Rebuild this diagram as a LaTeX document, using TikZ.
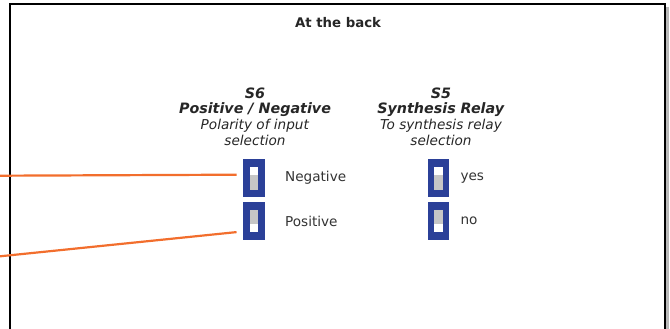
\documentclass[tikz,border=0pt]{standalone}
\usepackage{fontspec}
\setmainfont{DejaVu Sans}
\usetikzlibrary{positioning}
\definecolor{SwitchBlue}{RGB}{43,64,152}
\definecolor{SliderGray}{RGB}{198,198,198}
\definecolor{WireOrange}{RGB}{242,110,45}
\tikzset{
  FrameStyle/.style = {black, line width=1.3pt},
  TitleStyle/.style = {text=black!85, font=\fontsize{13.3}{15}\selectfont\bfseries},
  HeadStyle/.style = {align=center, inner sep=0pt, text=black!85,
                      font=\fontsize{13.6}{15.6}\selectfont},
  SwitchStyle/.style = {rectangle, fill=SwitchBlue, inner sep=0pt,
                        minimum width=21.5pt, minimum height=38pt},
  SlotStyle/.style = {rectangle, fill=white, inner sep=0pt,
                      minimum width=8.3pt, minimum height=22.7pt},
  LabelStyle/.style = {inner sep=0pt, text=black!80,
                       font=\fontsize{13.6}{15}\selectfont},
  WireStyle/.style = {WireOrange, line width=2.2pt} }
% dip switch: name, slider position (up or down)
\newcommand{\SetSlider}[2]{%
  \node[SlotStyle] (#1-slot) at (#1) {};
  \ifx#2u
    \fill[SliderGray] (#1-slot.south west) rectangle ([yshift=14.7pt]#1-slot.south east);
  \else
    \fill[SliderGray] (#1-slot.north west) rectangle ([yshift=-14pt]#1-slot.north east);
  \fi}

\begin{document}
\begin{tikzpicture}[x=1pt, y=-1pt]
  \useasboundingbox (0,0) rectangle (670,329);
  % frame, open at the bottom
  \draw[gray!55, line width=3pt] (667.5,7) -- (667.5,329);
  \draw[FrameStyle] (10,330) -- (10,4) -- (665,4) -- (665,330);
  \node[TitleStyle] (title) at (338,23) {At the back};

  \node[HeadStyle] (s6head) at (255,116.5)
    {{\fontsize{14.3}{15.6}\selectfont\textbf{\textit{S6}}}\\
     {\fontsize{14.3}{15.6}\selectfont\textbf{\textit{Positive / Negative}}}\\
     \textit{Polarity of input}\\ \textit{selection}};
  \node[HeadStyle] (s5head) at (441,116.5)
    {{\fontsize{14.3}{15.6}\selectfont\textbf{\textit{S5}}}\\
     {\fontsize{14.3}{15.6}\selectfont\textbf{\textit{Synthesis Relay}}}\\
     \textit{To synthesis relay}\\ \textit{selection}};

  \node[SwitchStyle] (sw6neg) at (254,178) {};
  \node[SwitchStyle, below=4.7pt of sw6neg] (sw6pos) {};
  \node[SwitchStyle, right=162.5pt of sw6neg] (sw5yes) {};
  \node[SwitchStyle, right=162.5pt of sw6pos] (sw5no) {};
  \SetSlider{sw6neg}{u}
  \SetSlider{sw6pos}{d}
  \SetSlider{sw5yes}{u}
  \SetSlider{sw5no}{d}

  \node[LabelStyle, right=20pt of sw6neg] (negative) {Negative};
  \node[LabelStyle, right=20pt of sw6pos] (positive) {Positive};
  \node[LabelStyle, right=11pt of sw5yes] (yes) {yes};
  \node[LabelStyle, right=11pt of sw5no] (no) {no};

  \coordinate (wireA) at (0,175.7);
  \coordinate (wireB) at (0,256.3);
  \draw[WireStyle] (wireA) -- ([shift={(-6.5pt,3.3pt)}]sw6neg.west);
  \draw[WireStyle] (wireB) -- ([shift={(-6.5pt,-11pt)}]sw6pos.west);
\end{tikzpicture}
\end{document}
